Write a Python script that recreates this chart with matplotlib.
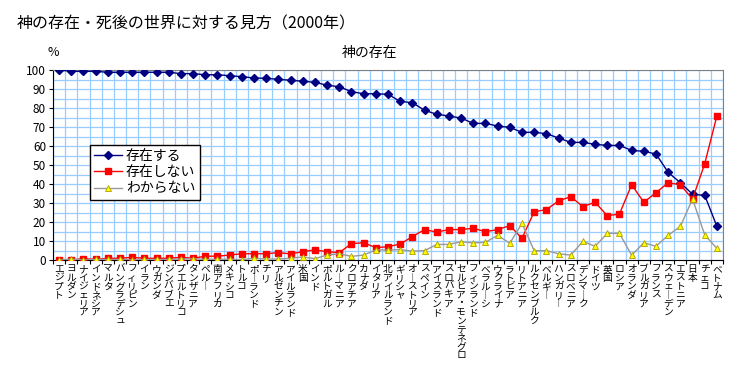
"""
神の存在・死後の世界に対する見方（2000年） - line chart of three answers per country.
"""

import matplotlib
matplotlib.use("Agg")
from matplotlib import pyplot as plt
from matplotlib.ticker import FixedLocator, MultipleLocator

plt.rcParams["font.family"] = ["Noto Sans CJK JP", "DejaVu Sans"]

# ------------------- Data ----------------------

COUNTRIES = [
    "エジプト", "ヨルダン", "ナイジェリア", "インドネシア", "マルタ", "バングラデシュ",
    "フィリピン", "イラン", "ウガンダ", "ジンバブエ", "プエルトリコ", "タンザニア",
    "ペルー", "南アフリカ", "メキシコ", "トルコ", "ポーランド", "チリ", "アルゼンチン",
    "アイルランド", "米国", "インド", "ポルトガル", "ルーマニア", "クロアチア", "カナダ",
    "イタリア", "北アイルランド", "ギリシャ", "オーストリア", "スペイン", "アイスランド",
    "スロバキア", "セルビア・モンテネグロ", "フィンランド", "ベラルーシ", "ウクライナ",
    "ラトビア", "リトアニア", "ルクセンブルク", "ベルギー", "ハンガリー", "スロベニア",
    "デンマーク", "ドイツ", "英国", "ロシア", "オランダ", "ブルガリア", "フランス",
    "スウェーデン", "エストニア", "日本", "チェコ", "ベトナム",
]

EXISTS = [
    100, 99.3, 99.3, 99.3, 98.8, 98.8, 98.8, 98.8, 98.8, 98.8, 98.1, 98.1,
    97.5, 97.5, 97.0, 96.5, 95.8, 95.6, 95.1, 94.6, 94.1, 93.5, 92.0, 91.2,
    88.6, 87.5, 87.5, 87.2, 83.5, 82.8, 78.8, 76.7, 75.8, 74.7, 71.9, 71.9,
    70.5, 69.8, 67.2, 67.2, 66.5, 64.2, 61.9, 61.9, 60.9, 60.3, 60.3, 57.7,
    57.2, 55.8, 46.1, 40.7, 34.6, 34.0, 17.7,
]

NOT_EXISTS = [
    0, 0, 0.7, 0.3, 0.9, 0.9, 1.4, 0.9, 0.9, 0.9, 1.4, 0.9,
    2.0, 2.0, 2.6, 3.3, 3.3, 3.3, 3.9, 3.2, 4.4, 5.3, 4.4, 3.9,
    8.6, 9.1, 6.5, 7.0, 8.4, 12.3, 16.0, 14.7, 16.0, 16.0, 16.7, 14.9,
    16.0, 18.1, 11.4, 25.4, 26.5, 31.1, 33.3, 28.1, 30.4, 23.3, 24.2, 39.6,
    30.4, 35.4, 40.7, 39.6, 32.1, 50.7, 75.9,
]

DONT_KNOW = [
    0, 0.5, 0, 0.3, 0.3, 0.3, 0, 0.3, 0.3, 0.3, 0.5, 0.7,
    0.3, 0.3, 0.4, 0.2, 0.9, 0.5, 0.5, 0.9, 1.6, 0.7, 2.6, 3.3,
    1.9, 2.6, 5.3, 5.3, 5.4, 4.7, 4.9, 8.2, 8.2, 9.6, 9.0, 9.3,
    13.0, 8.8, 19.3, 4.9, 4.9, 3.3, 2.6, 9.8, 7.2, 14.0, 14.0, 2.5,
    9.1, 7.2, 13.0, 17.7, 32.1, 13.2, 6.1,
]

SERIES_LABELS = ["存在する", "存在しない", "わからない"]


def vertical(text: str) -> str:
    """Stack characters top to bottom, long vowel mark turned upright."""
    return "\n".join("︱" if c == "ー" else c for c in text)


if __name__ == "__main__":
    fig = plt.figure(figsize=(7.39, 3.80), dpi=100)
    ax = fig.add_axes([53 / 739, 120 / 380, 670 / 739, 190 / 380])

    x = list(range(1, len(COUNTRIES) + 1))

    ax.plot(x, EXISTS, color="#000080", lw=1, marker="D", ms=4.5,
            mfc="#000080", mec="#000080", label=SERIES_LABELS[0], zorder=3)
    ax.plot(x, NOT_EXISTS, color="#ff0000", lw=1, marker="s", ms=4.5,
            mfc="#ff0000", mec="#ff0000", label=SERIES_LABELS[1], zorder=4)
    ax.plot(x, DONT_KNOW, color="#999999", lw=1, marker="^", ms=5,
            mfc="#ffff00", mec="#b0a000", mew=0.6, label=SERIES_LABELS[2], zorder=5)

    ax.set_xlim(0.5, len(COUNTRIES) + 0.5)
    ax.set_ylim(0, 100)

    # Category labels on the centres, ticks and grid on the boundaries
    ax.set_xticks(x)
    ax.set_xticklabels([vertical(c) for c in COUNTRIES], fontsize=7,
                       linespacing=0.82, va="top")
    ax.xaxis.set_minor_locator(FixedLocator([i + 0.5 for i in range(len(COUNTRIES) + 1)]))
    ax.tick_params(axis="x", which="major", length=0, pad=3)
    ax.tick_params(axis="x", which="minor", length=3, color="black", width=0.8)

    ax.yaxis.set_major_locator(MultipleLocator(10))
    ax.yaxis.set_minor_locator(MultipleLocator(5))
    ax.tick_params(axis="y", which="major", length=3, labelsize=8.5, pad=2)
    ax.tick_params(axis="y", which="minor", length=0)

    ax.grid(True, which="minor", axis="x", color="#99ccff", lw=0.9)
    ax.grid(True, which="both", axis="y", color="#99ccff", lw=0.9)
    ax.set_axisbelow(True)

    for side in ["top", "right"]:
        ax.spines[side].set_color("#808080")
    for side in ["left", "bottom"]:
        ax.spines[side].set_color("black")

    legend = ax.legend(loc="upper left", bbox_to_anchor=(0.055, 0.605), fontsize=10,
                       frameon=True, fancybox=False, framealpha=1, edgecolor="black",
                       handlelength=2.0, handletextpad=0.3, borderpad=0.3,
                       labelspacing=0.15, borderaxespad=0)
    legend.get_frame().set_linewidth(1)

    fig.text(17 / 739, 1 - 24 / 380, "神の存在・死後の世界に対する見方（2000年）",
             fontsize=11.5, va="center", ha="left")
    fig.text(48 / 739, 1 - 52 / 380, "%", fontsize=9, va="center", ha="left")
    fig.text(370 / 739, 1 - 53 / 380, "神の存在", fontsize=10, va="center", ha="center")

    fig.savefig("out.png", dpi=100)
